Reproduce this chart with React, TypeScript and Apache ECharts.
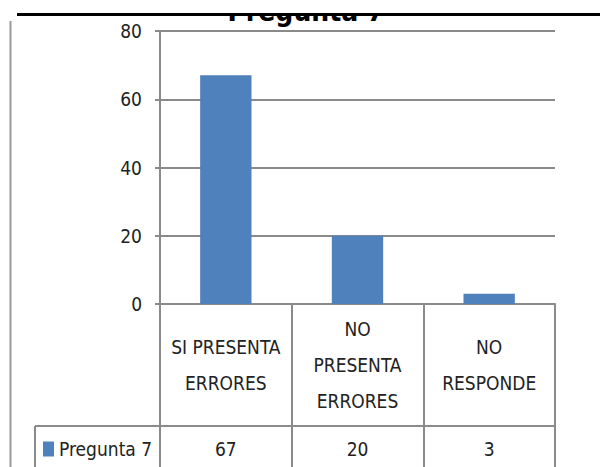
import React, { useEffect, useRef } from "react";
import * as echarts from "echarts";

const categories = ["SI PRESENTA\nERRORES", "NO\nPRESENTA\nERRORES", "NO\nRESPONDE"];
const values = [67, 20, 3];
const seriesName = "Pregunta 7";
const titleText = "Pregunta 7";
const yMin = 0;
const yMax = 80;
const yStep = 20;

const FONT = "'DejaVu Sans Condensed', 'Liberation Sans Narrow', sans-serif";
const GRID = "#8a8a8a";
const TEXT = "#222222";
const BAR = "#4f81bd";

export default function App() {
  const ref = useRef<HTMLDivElement>(null);
  useEffect(() => {
    if (!ref.current) return;
    const chart = echarts.init(ref.current, undefined, { renderer: "svg" });
    chart.setOption({
      animation: false,
      backgroundColor: "#ffffff",
      textStyle: { fontFamily: FONT },
      grid: { left: 160, right: 45, top: 31, bottom: 163, containLabel: false },
      legend: {
        data: [seriesName],
        left: 38,
        top: 433,
        icon: "rect",
        itemWidth: 11,
        itemHeight: 15,
        itemGap: 5,
        textStyle: { fontFamily: FONT, fontSize: 19, color: TEXT, lineHeight: 22 },
        selectedMode: false,
      },
      xAxis: [
        {
          type: "category",
          data: categories,
          axisLine: { show: true, lineStyle: { color: GRID, width: 2 } },
          axisTick: { show: true, interval: 0, length: 170, lineStyle: { color: GRID, width: 2 } },
          axisLabel: {
            interval: 0,
            margin: 61,
            verticalAlign: "middle",
            lineHeight: 36,
            fontSize: 19,
            color: TEXT,
            fontFamily: FONT,
          },
          splitLine: { show: false },
        },
        {
          type: "category",
          data: categories,
          position: "bottom",
          axisLine: { show: false },
          axisTick: { show: false },
          axisLabel: {
            interval: 0,
            margin: 145,
            verticalAlign: "middle",
            fontSize: 19,
            color: TEXT,
            fontFamily: FONT,
            formatter: (_v: string, i: number) => String(values[i]),
          },
          splitLine: { show: false },
        },
      ],
      yAxis: {
        type: "value",
        min: yMin,
        max: yMax,
        interval: yStep,
        axisLine: { show: true, lineStyle: { color: GRID, width: 2 } },
        axisTick: { show: true, length: 5, lineStyle: { color: GRID, width: 2 } },
        axisLabel: { margin: 18, fontSize: 19, color: TEXT, fontFamily: FONT },
        splitLine: { show: true, lineStyle: { color: GRID, width: 2 } },
      },
      series: [
        {
          name: seriesName,
          type: "bar",
          xAxisIndex: 0,
          data: values,
          barWidth: "39%",
          itemStyle: { color: BAR },
        },
      ],
      graphic: [
        {
          type: "text",
          z: 10,
          x: 306,
          y: 11,
          style: {
            text: titleText,
            font: `bold 28px ${FONT}`,
            fill: "#000000",
            align: "center",
            verticalAlign: "middle",
          },
        },
        { type: "rect", z: 20, shape: { x: 0, y: 0, width: 600, height: 13 }, style: { fill: "#ffffff" } },
        {
          type: "line",
          z: 30,
          shape: { x1: 17, y1: 14.5, x2: 600, y2: 14.5 },
          style: { stroke: "#000000", lineWidth: 3 },
        },
        {
          type: "line",
          z: 30,
          shape: { x1: 10.5, y1: 21, x2: 10.5, y2: 467 },
          style: { stroke: "#9a9a9a", lineWidth: 2 },
        },
        {
          type: "line",
          z: 30,
          shape: { x1: 35, y1: 426, x2: 556, y2: 426 },
          style: { stroke: GRID, lineWidth: 2 },
        },
        {
          type: "line",
          z: 30,
          shape: { x1: 35, y1: 426, x2: 35, y2: 467 },
          style: { stroke: GRID, lineWidth: 2 },
        },
      ],
    });
    return () => chart.dispose();
  }, []);
  return (
    <div
      ref={ref}
      style={{ position: "fixed", left: 0, top: 0, width: 600, height: 467, background: "#fff" }}
    />
  );
}
